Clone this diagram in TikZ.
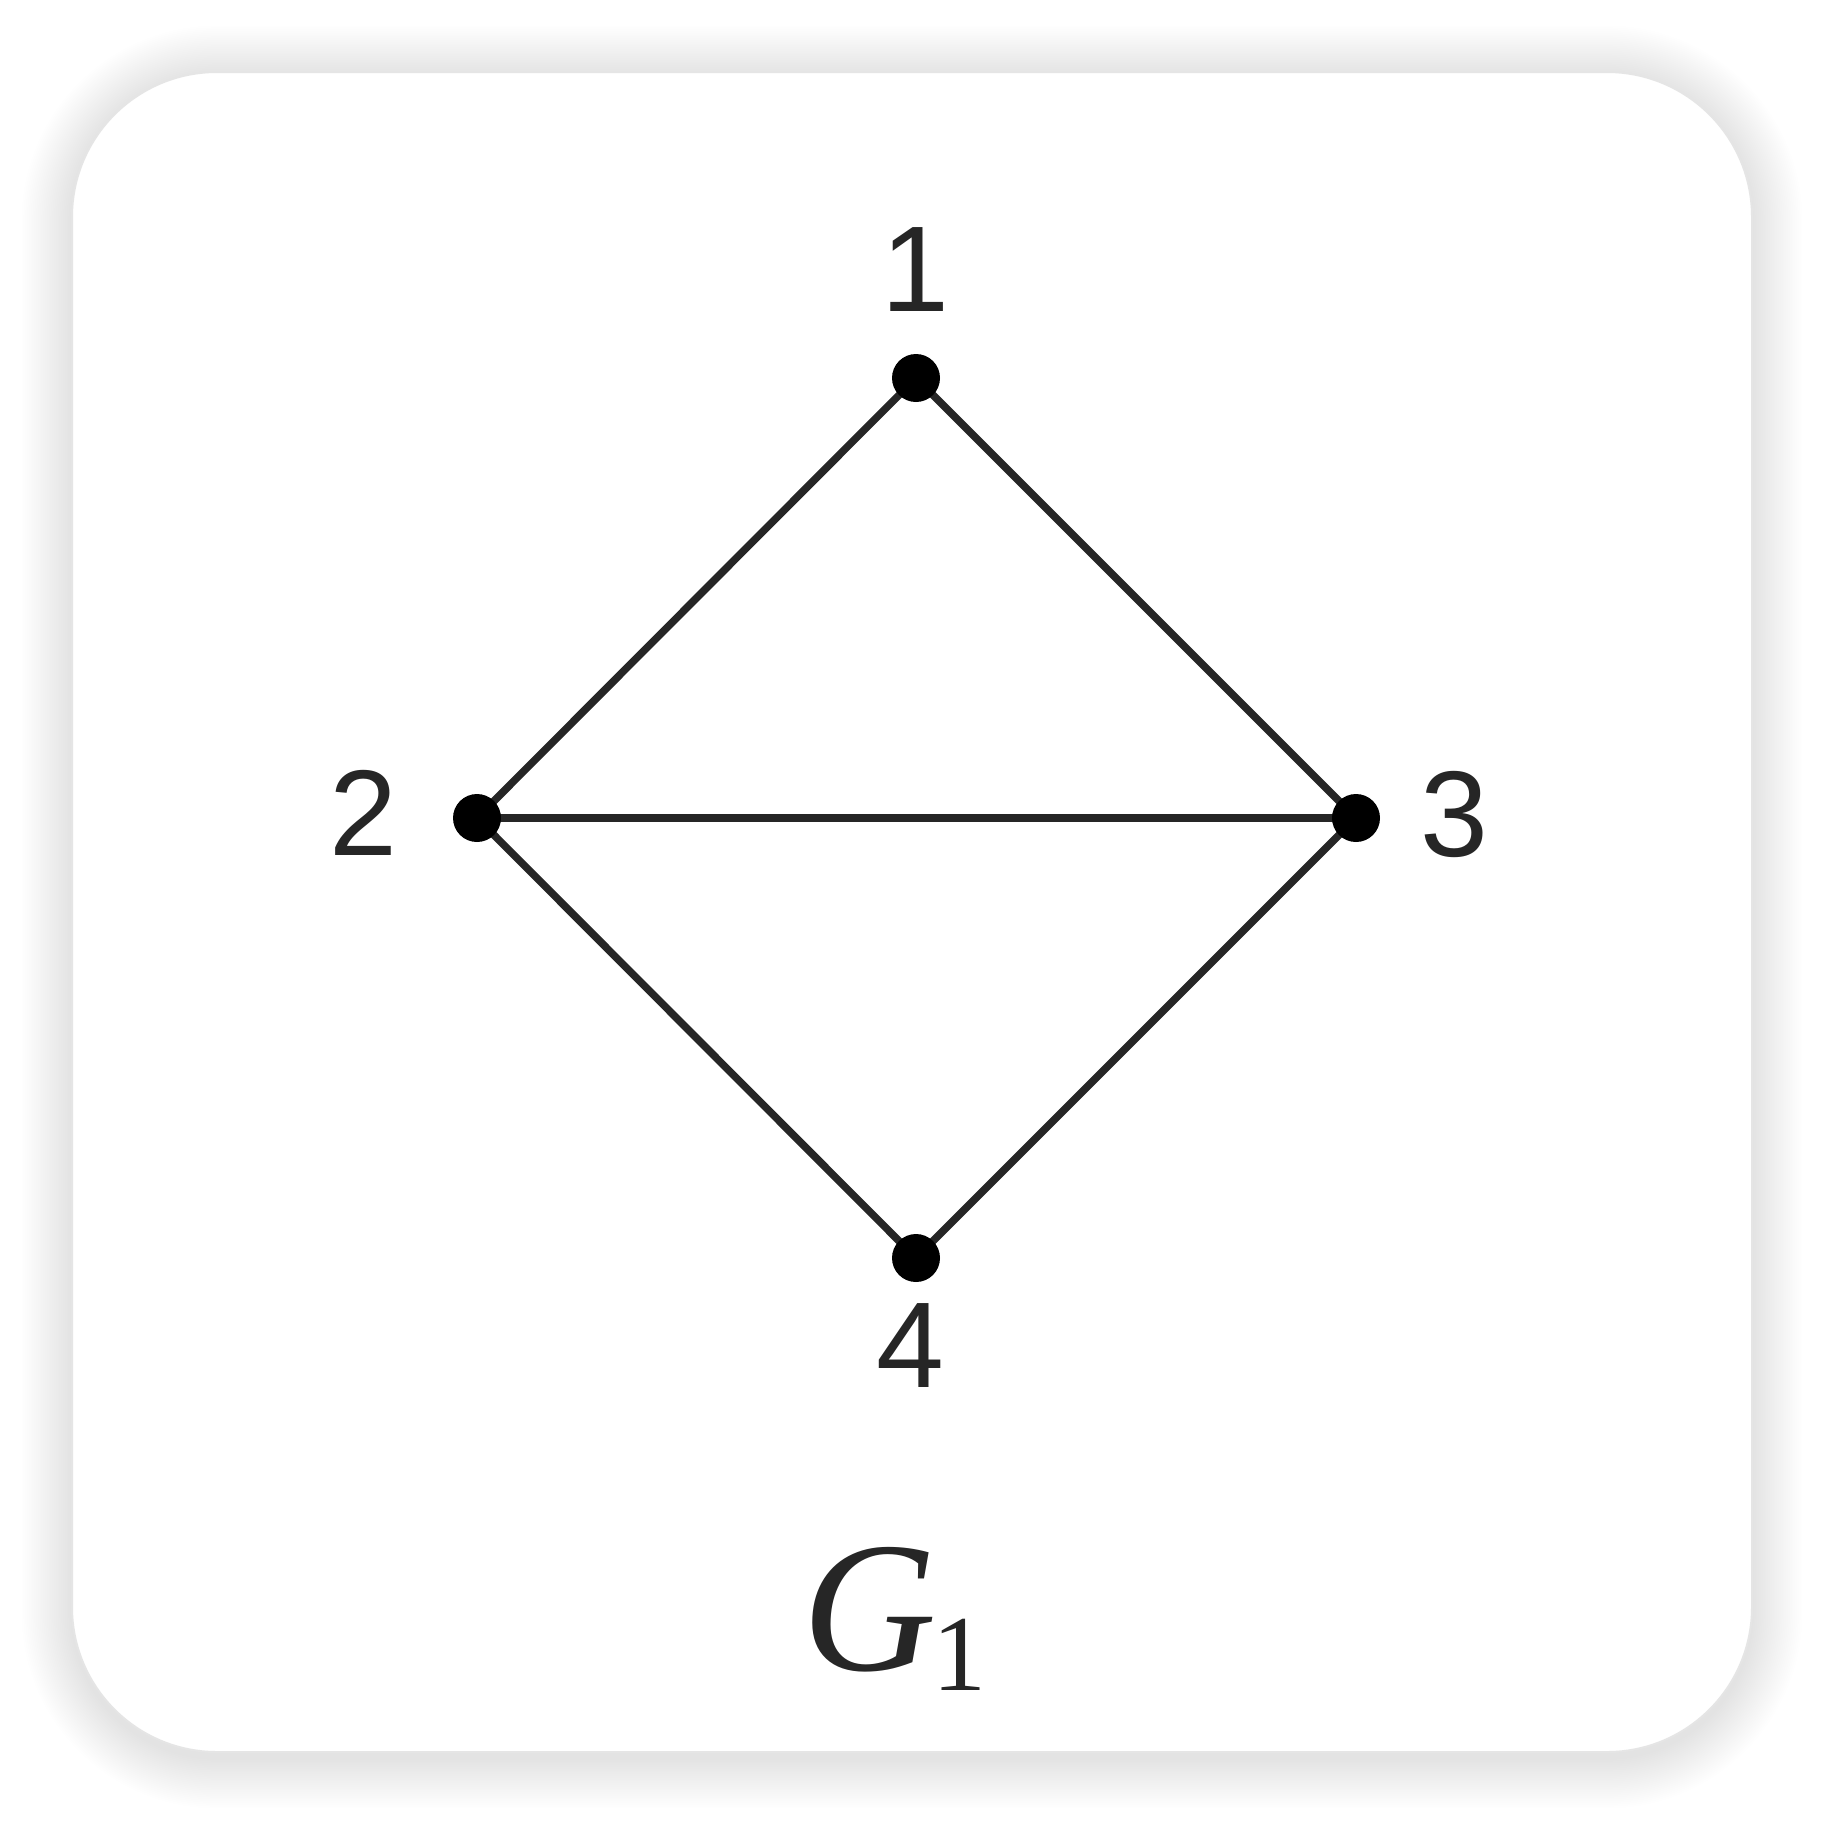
\documentclass[tikz,border=0pt]{standalone}
\usepackage{fontspec}
\setmainfont{Liberation Sans}
\newfontfamily\capfont{Liberation Serif}
\pgfdeclarelayer{fg}
\pgfsetlayers{main,fg}
\begin{document}
\begin{tikzpicture}[x=1pt,y=-1pt,
  vtx/.style={circle,fill=black,inner sep=0pt,minimum size=48pt},
  lbl/.style={inner sep=0pt,font=\fontsize{122}{122}\selectfont,text=black!85},
  edge/.style={line width=7.5pt,draw=black!85}]
\useasboundingbox (0,0) rectangle (1825,1824);
\fill[white] (0,0) rectangle (1825,1824);
% shadow
\foreach \i in {1,...,28}{
  \fill[black,opacity=0.0045,rounded corners={145+1.8*\i}] (72-1.8*\i,72-1.8*\i+4) rectangle (1752+1.8*\i,1752+1.8*\i+6);
}
% card
\draw[fill=white,draw=black!10,line width=2pt,rounded corners=145] (72,72) rectangle (1752,1752);
% vertices
\begin{pgfonlayer}{fg}
\node[vtx] (v1) at (916,378) {};
\node[vtx] (v2) at (477,818) {};
\node[vtx] (v3) at (1356,818) {};
\node[vtx] (v4) at (916,1258) {};
\end{pgfonlayer}
\draw[edge] (v1.center) -- (v2.center);
\draw[edge] (v1.center) -- (v3.center);
\draw[edge] (v2.center) -- (v3.center);
\draw[edge] (v2.center) -- (v4.center);
\draw[edge] (v3.center) -- (v4.center);
% labels
\node[lbl] (l1) at (915,270) {1};
\node[lbl] (l2) at (363,813) {2};
\node[lbl] (l3) at (1454,814) {3};
\node[lbl] (l4) at (910,1346) {4};
\node[inner sep=0pt,anchor=base west,text=black!85] (g) at (802,1670)
  {\capfont\fontsize{186}{186}\selectfont\itshape G\kern-4pt\raisebox{-20pt}{\upshape\fontsize{108}{108}\selectfont 1}};
\end{tikzpicture}
\end{document}
